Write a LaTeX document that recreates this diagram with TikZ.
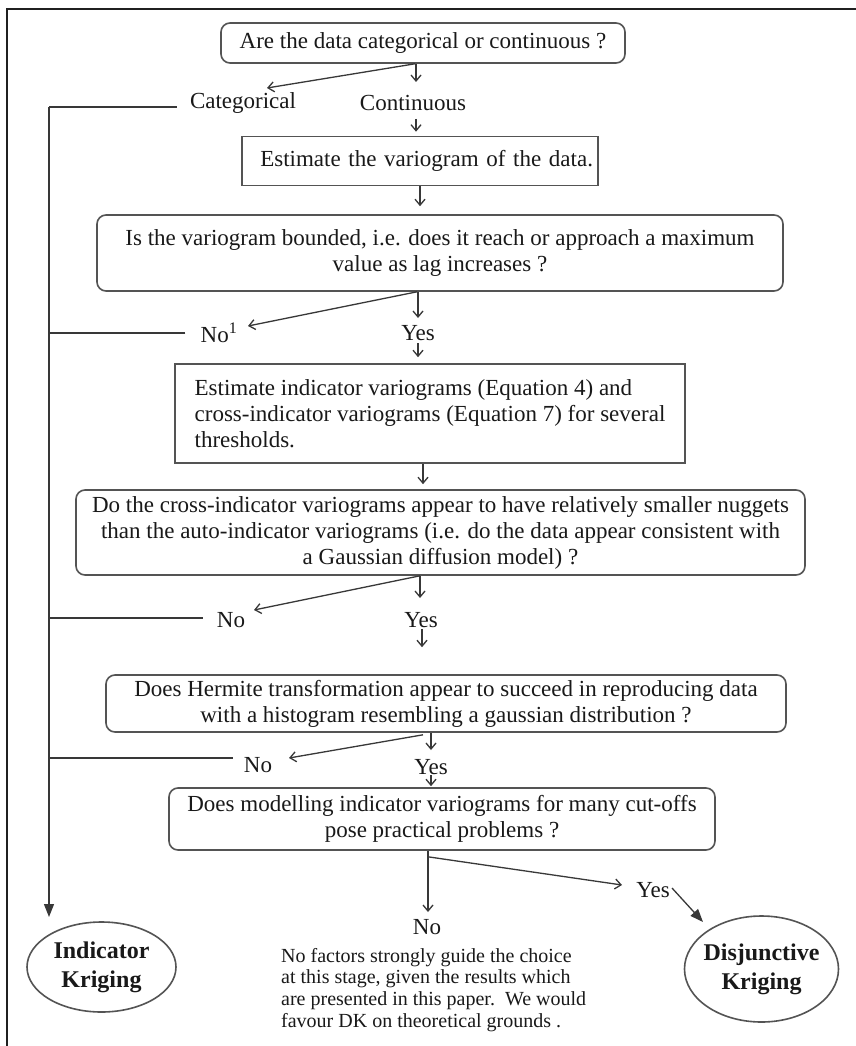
\documentclass[tikz,border=0pt]{standalone}
\usepackage{fontspec}
\setmainfont{Liberation Serif}
\usetikzlibrary{calc,shapes.geometric,arrows.meta}
\definecolor{linec}{gray}{0.22}
\definecolor{boxc}{gray}{0.33}
\definecolor{txtc}{gray}{0.1}
\newcommand\boxfont{\fontsize{23}{26}\selectfont}
\newcommand\parfont{\fontsize{20}{21.7}\selectfont}
\newcommand\kfont{\fontsize{24}{29}\selectfont\bfseries}
\begin{document}
\begin{tikzpicture}[x=1pt,y=-1pt,
  every node/.style={text=txtc},
  rbox/.style={draw=boxc, line width=1.6pt, rounded corners=9pt, align=center, inner sep=0pt, font=\boxfont},
  sbox/.style={draw=boxc, line width=1.6pt, align=center, inner sep=0pt, font=\boxfont},
  lbl/.style={font=\boxfont, inner sep=1pt},
  arr/.style={draw=linec, line width=1.3pt, -{Straight Barb[length=6pt,width=10pt]}},
  fat/.style={draw=linec, line width=1.3pt, -{Triangle[length=13pt,width=10pt]}},
  ln/.style={draw=linec, line width=1.3pt},
  outc/.style={ellipse, draw=boxc, line width=1.6pt, inner sep=0pt, align=center, font=\kfont}]
\useasboundingbox (0,0) rectangle (856,1046);
\fill[white] (0,0) rectangle (856,1046);
% frame
\draw[line width=2.5pt, draw=gray!25!black] (856,9) -- (7,9) -- (7,1046);

% nodes
\node[rbox, minimum width=404pt, minimum height=40pt] (q1) at (423,43) {Are the data categorical or continuous ?};
\node[lbl] (cat) at (243,103) {Categorical};
\node[lbl] (cont) at (413,103) {Continuous};
\node[sbox, minimum height=49pt, text width=346pt, align=right, inner xsep=5pt] (est) at (420,161) {Estimate the variogram of the data.};
\node[rbox, minimum width=686pt, minimum height=76pt] (q2) at (440,253) {Is the variogram bounded, i.e. does it reach or approach a maximum\\value as lag increases ?};
\node[lbl] (no1) at (219,333) {No\textsuperscript{1}};
\node[lbl] (yes1) at (418,333) {Yes};
\node[sbox, minimum width=510pt, minimum height=99pt, align=left] (est2) at (430,413.5) {Estimate indicator variograms (Equation 4) and\\cross-indicator variograms (Equation 7) for several\\thresholds.};
\node[rbox, minimum width=729pt, minimum height=85pt] (q3) at (440.5,532.5) {Do the cross-indicator variograms appear to have relatively smaller nuggets\\than the auto-indicator variograms (i.e. do the data appear consistent with\\a Gaussian diffusion model) ?};
\node[lbl] (no2) at (231,620) {No};
\node[lbl] (yes2) at (421,620) {Yes};
\node[rbox, minimum width=680pt, minimum height=57pt] (q4) at (446,703.5) {Does Hermite transformation appear to succeed in reproducing data\\with a histogram resembling a gaussian distribution ?};
\node[lbl] (no3) at (258,765) {No};
\node[lbl] (yes3) at (431,767) {Yes};
\node[rbox, minimum width=546pt, minimum height=62pt] (q5) at (442,819) {Does modelling indicator variograms for many cut-offs\\pose practical problems ?};
\node[lbl] (no4) at (427,927) {No};
\node[lbl] (yes4) at (653,890) {Yes};
\node[anchor=north west, inner sep=0pt, align=left, font=\parfont] (note) at (281,948) {No factors strongly guide the choice\\at this stage, given the results which\\are presented in this paper.\ \ We would\\favour DK on theoretical grounds .};
\node[outc, minimum width=149pt, minimum height=90pt] (ik) at (101.5,967) {Indicator\\Kriging};
\node[outc, minimum width=154pt, minimum height=106pt, inner xsep=-8pt] (dk) at (761.5,969) {Disjunctive\\Kriging};

% trunk on the left
\coordinate (ttop) at (49,107);
\coordinate (tbot) at (49,917);
\draw[ln] ($(cat.west)+(-12,4)$) -- (ttop);
\draw[fat] (ttop) -- (tbot);
\draw[ln] ($(no1.west)+(-14,0)$) -- ($(no1.west -| ttop)$);
\draw[ln] ($(no2.west)+(-13,-2)$) -- ($(no2.west -| ttop)+(0,-2)$);
\draw[ln] ($(no3.west)+(-10,-7)$) -- ($(no3.west -| ttop)+(0,-7)$);

% arrows
\draw[arr] ($(q1.south)+(-8,0)$) -- ($(cat.center)+(24,-15)$);
\draw[arr] ($(q1.south)+(-7,0)$) -- ($(cont.center)+(3,-21)$);
\draw[arr] ($(cont.center)+(3,16)$) -- ($(est.north)+(-4,-4)$);
\draw[arr] (est.south) -- ($(q2.north)+(-20,-8)$);
\draw[arr] ($(q2.south)+(-23,0)$) -- ($(no1.center)+(29,-7)$);
\draw[arr] ($(q2.south)+(-22,0)$) -- ($(yes1.center)+(0,-15)$);
\draw[arr] ($(yes1.center)+(0,10)$) -- ($(est2.north)+(-12,-6)$);
\draw[arr] ($(est2.south)+(-7,0)$) -- ($(q3.north)+(-17.5,-5)$);
\draw[arr] ($(q3.south)+(-20.5,0)$) -- ($(no2.center)+(23,-10)$);
\draw[arr] ($(q3.south)+(-20.5,0)$) -- ($(yes2.center)+(-1,-22)$);
\draw[arr] ($(yes2.center)+(1,9)$) -- ($(q4.north)+(-24,-27)$);
\draw[arr] ($(q4.south)+(-15,0)$) -- ($(yes3.center)+(0,-17)$);
\draw[arr] ($(q4.south)+(-23,2)$) -- ($(no3.center)+(31,-7)$);
\draw[arr] ($(yes3.center)+(0,8)$) -- ($(q5.north)+(-11,-1)$);
\draw[arr] ($(q5.south)+(-14,0)$) -- ($(no4.center)+(1,-15)$);
\draw[arr] ($(q5.south)+(-14,6)$) -- ($(yes4.center)+(-31,-5)$);
\draw[fat] ($(yes4.center)+(19,-2)$) -- ($(dk.center)+(-58.5,-47)$);
\end{tikzpicture}
\end{document}
